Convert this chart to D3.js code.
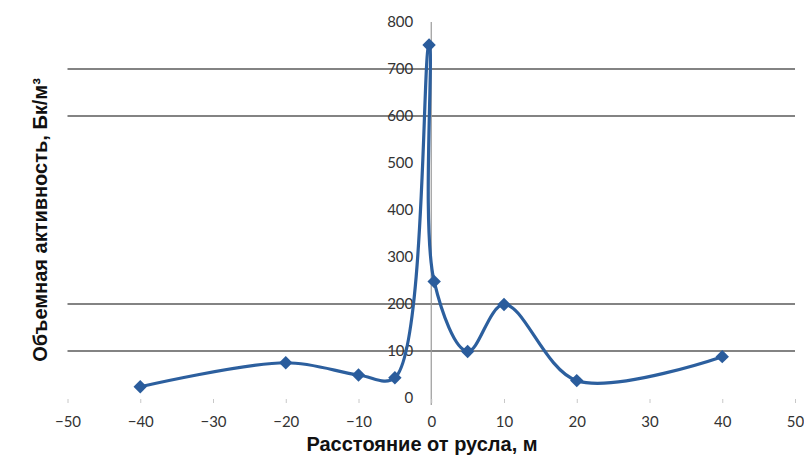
<!DOCTYPE html>
<html><head><meta charset="utf-8">
<script src="https://cdn.jsdelivr.net/npm/d3@7"></script>
<style>body{margin:0;background:#fff}svg{display:block}</style>
</head><body>
<svg id="c" width="804" height="457"></svg>
<script>
const distance = [-40, -20, -10, -5, -0.3, 0.4, 5, 10, 20, 40];
const activity = [24, 75, 49, 43, 751, 248, 99, 199, 37, 88];
const xTicks = [-50, -40, -30, -20, -10, 0, 10, 20, 30, 40, 50];
const yTicks = [0, 100, 200, 300, 400, 500, 600, 700, 800];
const gridValues = [100, 200, 600, 700];
const xTitle = "Расстояние от русла, м";
const yTitle = "Объемная активность, Бк/м³";

const svg = d3.select("#c");
const x = d3.scaleLinear().domain([-50, 50]).range([67.5, 795]);
const y = d3.scaleLinear().domain([0, 800]).range([398, 22]);

svg.append("g").selectAll("line").data(gridValues).join("line")
  .attr("x1", x(-50)).attr("x2", x(50))
  .attr("y1", d => y(d)).attr("y2", d => y(d))
  .attr("stroke", "#5a5a5a").attr("stroke-width", 1.3);

svg.append("line").attr("x1", x(0)).attr("x2", x(0)).attr("y1", y(800)).attr("y2", 405)
  .attr("stroke", "#9a9a9a").attr("stroke-width", 1.2);

const tickFont = "Lato, 'Open Sans', sans-serif";
const xa = d3.axisBottom(x).tickValues(xTicks).tickSize(4).tickPadding(13);
const gx = svg.append("g").attr("transform", "translate(0,399)").call(xa);
gx.select(".domain").remove();
gx.selectAll(".tick line").attr("stroke", "#c8c8c8");
gx.selectAll(".tick text").attr("fill", "#333").style("font-family", tickFont).style("font-size", "15px");

const ya = d3.axisLeft(y).tickValues(yTicks).tickSize(0).tickPadding(18);
const gy = svg.append("g").attr("transform", `translate(${x(0)},0)`).call(ya);
gy.select(".domain").remove();
gy.selectAll(".tick text").attr("fill", "#333").style("font-family", tickFont).style("font-size", "15px");

const pts = distance.map((d, i) => [d, activity[i]]);
const line = d3.line().x(d => x(d[0])).y(d => y(d[1])).curve(d3.curveCatmullRom.alpha(0.5));
svg.append("path").datum(pts).attr("d", line)
  .attr("fill", "none").attr("stroke", "#2c5f9e").attr("stroke-width", 3.2)
  .attr("stroke-linejoin", "round");

svg.append("g").selectAll("path").data(pts).join("path")
  .attr("d", d3.symbol().type(d3.symbolSquare).size(90))
  .attr("transform", d => `translate(${x(d[0])},${y(d[1])}) rotate(45)`)
  .attr("fill", "#2a5c9c");

const titleFont = "'Liberation Sans', Arial, sans-serif";
svg.append("text").attr("x", 422).attr("y", 451).attr("text-anchor", "middle")
  .style("font-family", titleFont).style("font-weight", "bold").style("font-size", "20px")
  .attr("fill", "#111").text(xTitle);
svg.append("text").attr("transform", "translate(47,220) rotate(-90)").attr("text-anchor", "middle")
  .style("font-family", titleFont).style("font-weight", "bold").style("font-size", "20px")
  .attr("fill", "#111").text(yTitle);
</script>
</body></html>
